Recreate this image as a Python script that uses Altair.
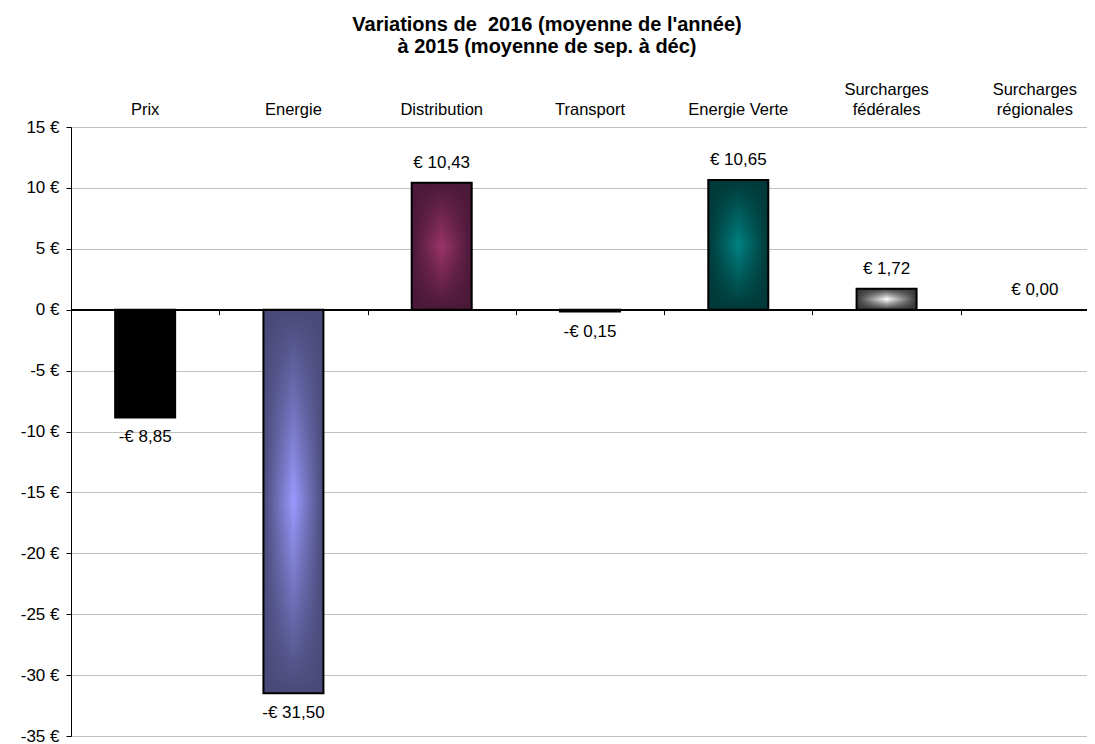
import altair as alt
import pandas as pd

categories = ["Prix", "Energie", "Distribution", "Transport", "Energie Verte",
              "Surcharges fédérales", "Surcharges régionales"]
values = [-8.85, -31.50, 10.43, -0.15, 10.65, 1.72, 0.00]
y_ticks = [-35, -30, -25, -20, -15, -10, -5, 0, 5, 10, 15]
title_lines = ["Variations de \u00a02016 (moyenne de l'année)", "à 2015 (moyenne de sep. à déc)"]

edge_colors = ["#000000", "#494978", "#4a1838", "#000000", "#003838", "#353535", "#000000"]
center_colors = ["#000000", "#9a9aff", "#9a3468", "#000000", "#008282", "#ffffff", "#000000"]


def fmt(v):
    s = f"{abs(v):.2f}".replace(".", ",")
    return ("-" if v < 0 else "") + "€ " + s


def rgba(hex_color, a):
    h = hex_color.lstrip("#")
    r, g, b = int(h[0:2], 16), int(h[2:4], 16), int(h[4:6], 16)
    return f"rgba({r},{g},{b},{a})"


df = pd.DataFrame({"cat": categories, "value": values, "label": [fmt(v) for v in values]})

W, H = 1016, 609
FONT = "Liberation Sans"

x_scale = alt.Scale(domain=categories, range=[0, 1038], paddingInner=0, paddingOuter=0)
y_scale = alt.Scale(domain=[-35, 15], nice=False, zero=False)

base = alt.Chart(df)

y_axis = alt.Axis(values=y_ticks, labelExpr="datum.value + ' €'", title=None,
                  domainColor="black", domainWidth=1, tickColor="black", tickSize=5,
                  labelFont=FONT, labelFontSize=17, labelColor="black", labelPadding=7,
                  gridColor="#808080", gridDash=[1, 1], gridWidth=1)

zero_frac = 15 / 50
bottom_axis = alt.Axis(orient="bottom", offset=-(H - H * zero_frac), domain=False,
                       ticks=True, tickBand="extent", tickColor="black", tickSize=5,
                       labels=False, title=None, grid=False)

top_axis = alt.Axis(orient="top", domain=False, ticks=False, labelAngle=0,
                    labelFont=FONT, labelFontSize=16.5, labelColor="black",
                    labelPadding=30, labelLineHeight=20, labelLimit=0,
                    labelOverlap=False, grid=False, title=None,
                    labelExpr="indexof(datum.label, 'Surcharges') == 0 ? split(datum.label, ' ') : ['', datum.label]")

layers = []
# invisible layer carrying the bottom ticks axis (ticks on zero line)
layers.append(base.mark_point(opacity=0).encode(
    x=alt.X("cat:N", scale=x_scale, axis=bottom_axis, sort=categories),
    y=alt.Y("value:Q", scale=y_scale, axis=y_axis),
))

for i, cat in enumerate(categories):
    if values[i] == 0:
        continue
    edge, center = edge_colors[i], center_colors[i]
    h_grad = alt.LinearGradient(
        gradient="linear", x1=0, x2=1, y1=0, y2=0,
        stops=[alt.GradientStop(color=edge, offset=0),
               alt.GradientStop(color=center, offset=0.5),
               alt.GradientStop(color=edge, offset=1)])
    v_grad = alt.LinearGradient(
        gradient="linear", x1=0, x2=0, y1=0, y2=1,
        stops=[alt.GradientStop(color=rgba(edge, 1), offset=0),
               alt.GradientStop(color=rgba(edge, 0), offset=0.5),
               alt.GradientStop(color=rgba(edge, 1), offset=1)])
    sub = base.transform_filter(alt.datum.cat == cat)
    enc = dict(
        x=alt.X("cat:N", scale=x_scale, axis=None, sort=categories),
        y=alt.Y("value:Q", scale=y_scale, axis=y_axis, stack=None),
        y2=alt.datum(0),
    )
    layers.append(sub.mark_bar(width=60, color=h_grad).encode(**enc))
    layers.append(sub.mark_bar(width=60, color=v_grad, stroke="black", strokeWidth=2).encode(**enc))

# zero line
layers.append(base.mark_rule(color="black", strokeWidth=1.5).encode(
    y=alt.Y(datum=0, scale=y_scale, axis=y_axis)))

# value labels
layers.append(base.transform_filter(alt.datum.value >= 0).mark_text(
    font=FONT, fontSize=17, color="black", baseline="middle", dy=-20).encode(
    x=alt.X("cat:N", scale=x_scale, axis=top_axis, sort=categories),
    y=alt.Y("value:Q", scale=y_scale, axis=y_axis),
    text="label:N"))
layers.append(base.transform_filter(alt.datum.value < 0).mark_text(
    font=FONT, fontSize=17, color="black", baseline="middle", dy=20).encode(
    x=alt.X("cat:N", scale=x_scale, axis=None, sort=categories),
    y=alt.Y("value:Q", scale=y_scale, axis=y_axis),
    text="label:N"))

chart = alt.layer(*layers).resolve_axis(x="independent").properties(
    width=W, height=H,
    autosize=alt.AutoSizeParams(type="none"),
    padding={"left": 63, "top": 119, "right": 0, "bottom": 8},
    title=alt.TitleParams(text=title_lines, font=FONT, fontSize=20, fontWeight="bold",
                          color="black", anchor="middle", dx=-32, offset=24, lineHeight=22),
).configure(font=FONT).configure_view(stroke=None)

chart.save("out.html", embed_options={"renderer": "svg", "actions": False})
